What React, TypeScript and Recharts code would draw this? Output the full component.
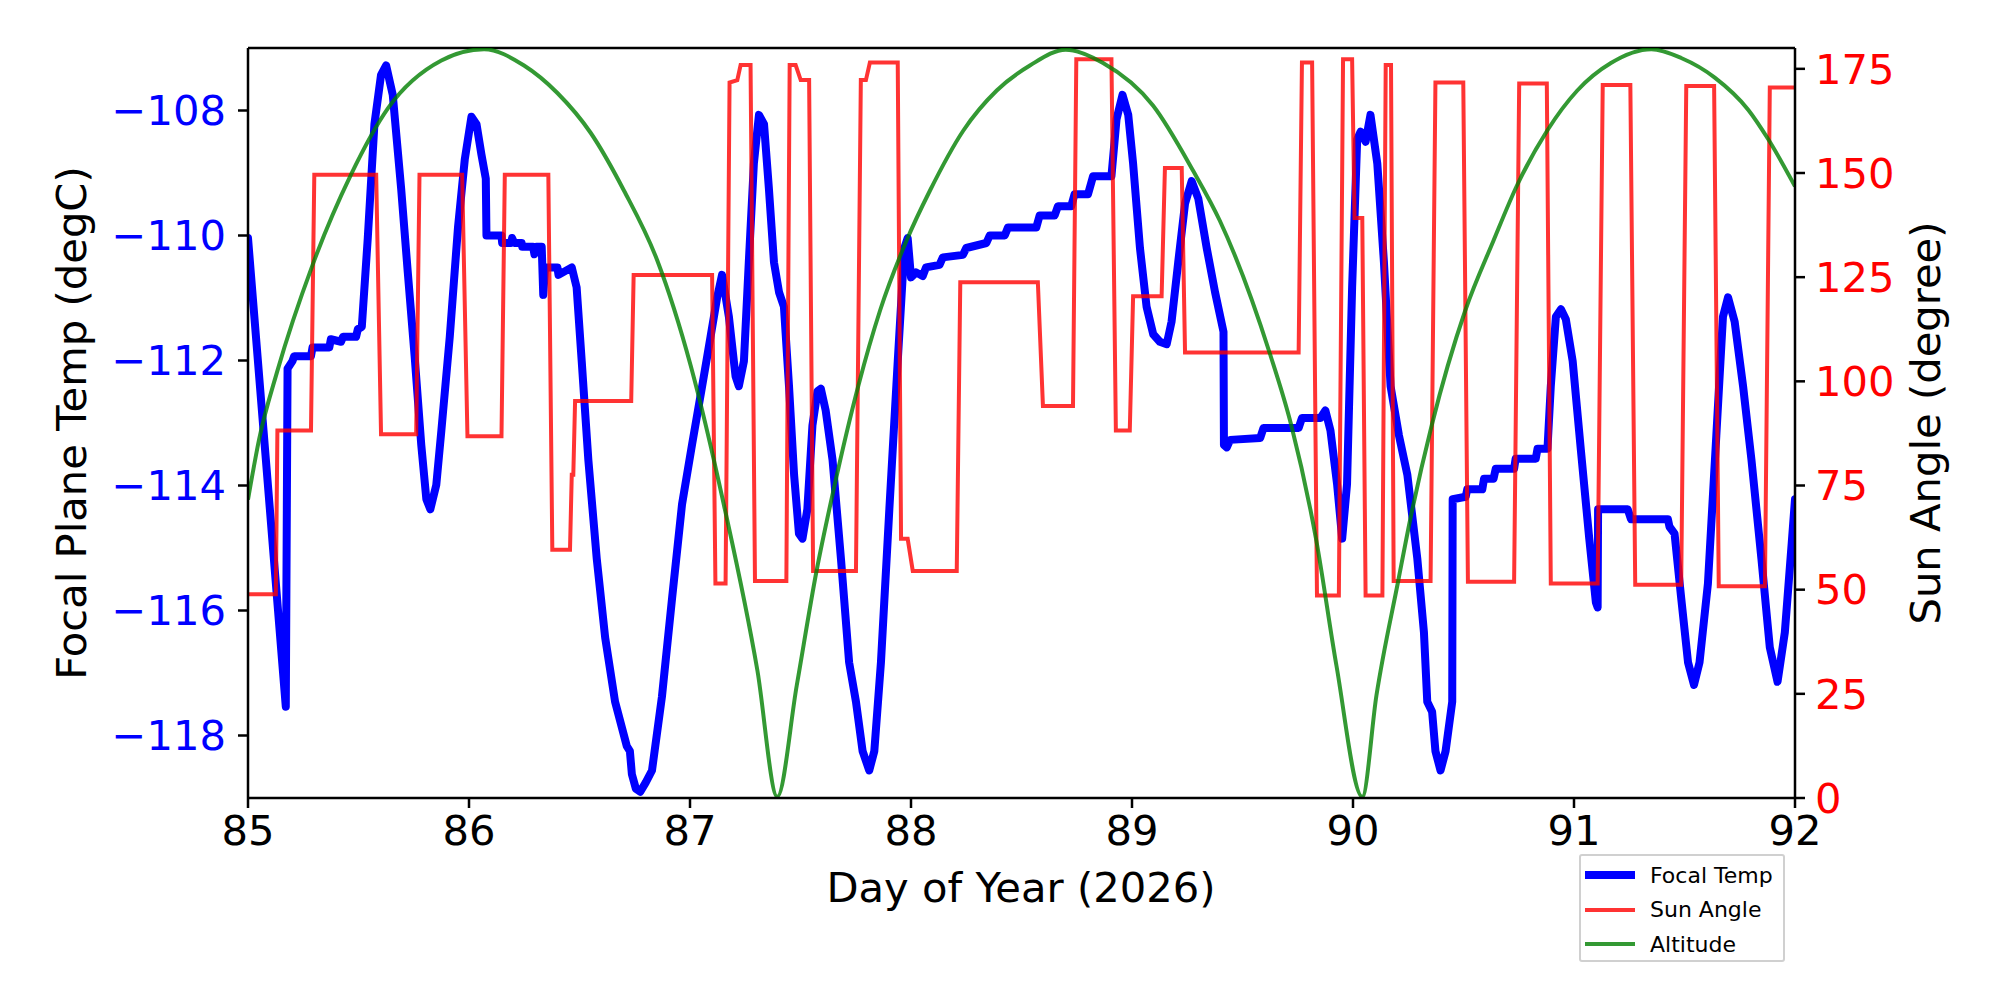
import { LineChart, Line, XAxis, YAxis, ReferenceLine } from "recharts";

// Focal plane temperature (degC)
const focalDays = [
  85.0, 85.171, 85.179, 85.201, 85.209, 85.285, 85.292, 85.368, 85.375, 85.421, 85.43, 85.489,
  85.497, 85.515, 85.542, 85.572, 85.602, 85.625, 85.655, 85.693, 85.723, 85.754, 85.784, 85.807,
  85.825, 85.852, 85.875, 85.913, 85.95, 85.981, 86.011, 86.034, 86.056, 86.076, 86.079, 86.147,
  86.15, 86.19, 86.195, 86.205, 86.238, 86.241, 86.29, 86.296, 86.305, 86.329, 86.336, 86.344,
  86.4, 86.405, 86.465, 86.487, 86.51, 86.54, 86.578, 86.616, 86.661, 86.714, 86.728, 86.737,
  86.755, 86.775, 86.8, 86.828, 86.873, 86.919, 86.964, 87.009, 87.055, 87.093, 87.123, 87.145,
  87.176, 87.206, 87.221, 87.244, 87.266, 87.289, 87.312, 87.335, 87.357, 87.38, 87.403, 87.425,
  87.448, 87.471, 87.493, 87.509, 87.531, 87.554, 87.577, 87.592, 87.614, 87.645, 87.683, 87.72,
  87.751, 87.781, 87.811, 87.834, 87.864, 87.902, 87.94, 87.97, 87.985, 88.0, 88.023, 88.053,
  88.068, 88.129, 88.144, 88.235, 88.25, 88.341, 88.356, 88.424, 88.439, 88.567, 88.582, 88.65,
  88.665, 88.725, 88.74, 88.801, 88.824, 88.907, 88.93, 88.957, 88.983, 89.005, 89.036, 89.066,
  89.096, 89.126, 89.157, 89.179, 89.209, 89.24, 89.27, 89.3, 89.338, 89.376, 89.414, 89.416,
  89.429, 89.444, 89.58, 89.595, 89.754, 89.769, 89.853, 89.875, 89.898, 89.928, 89.951, 89.973,
  89.996, 90.019, 90.034, 90.057, 90.079, 90.11, 90.14, 90.17, 90.208, 90.246, 90.291, 90.321,
  90.336, 90.358, 90.373, 90.396, 90.419, 90.449, 90.451, 90.51, 90.517, 90.585, 90.593, 90.636,
  90.646, 90.729, 90.736, 90.827, 90.835, 90.88, 90.895, 90.918, 90.941, 90.963, 90.994, 91.031,
  91.069, 91.099, 91.107, 91.109, 91.243, 91.258, 91.425, 91.432, 91.455, 91.485, 91.516, 91.543,
  91.568, 91.606, 91.644, 91.674, 91.697, 91.727, 91.765, 91.803, 91.848, 91.886, 91.921, 91.954,
  91.985, 92.0,
];
const focalTemps = [
  -110.04, -117.54, -112.13, -112.01, -111.93, -111.93, -111.79, -111.79, -111.66, -111.7, -111.62, -111.62,
  -111.5, -111.46, -110.04, -108.22, -107.43, -107.28, -107.75, -109.25, -110.59, -111.93, -113.35, -114.22,
  -114.38, -113.99, -113.12, -111.62, -109.88, -108.78, -108.1, -108.22, -108.7, -109.09, -110.0, -110.0,
  -110.12, -110.12, -110.04, -110.12, -110.12, -110.18, -110.18, -110.3, -110.18, -110.18, -110.95, -110.51,
  -110.51, -110.63, -110.51, -110.83, -112.01, -113.59, -115.17, -116.43, -117.46, -118.17, -118.25, -118.62,
  -118.85, -118.9, -118.75, -118.56, -117.38, -115.8, -114.3, -113.35, -112.41, -111.62, -110.99, -110.63,
  -111.3, -112.25, -112.41, -112.01, -110.43, -108.85, -108.07, -108.22, -109.25, -110.43, -110.91, -111.14,
  -112.41, -113.83, -114.77, -114.85, -114.38, -113.04, -112.49, -112.45, -112.8, -113.59, -115.17, -116.83,
  -117.46, -118.25, -118.56, -118.25, -116.83, -114.38, -112.01, -110.2, -110.04, -110.67, -110.59, -110.65,
  -110.51, -110.47, -110.35, -110.31, -110.2, -110.12, -110.0, -110.0, -109.87, -109.87, -109.68, -109.68,
  -109.53, -109.53, -109.34, -109.34, -109.05, -109.05, -108.14, -107.75, -108.07, -108.85, -110.2, -111.14,
  -111.58, -111.7, -111.74, -111.38, -110.43, -109.49, -109.13, -109.41, -110.2, -110.91, -111.54, -113.35,
  -113.39, -113.27, -113.24, -113.08, -113.08, -112.92, -112.92, -112.8, -113.12, -113.98, -114.85, -113.98,
  -110.83, -108.46, -108.34, -108.5, -108.07, -108.85, -110.43, -112.41, -113.2, -113.83, -115.17, -116.35,
  -117.46, -117.62, -118.25, -118.56, -118.25, -117.46, -114.22, -114.18, -114.06, -114.06, -113.89, -113.89,
  -113.73, -113.73, -113.57, -113.57, -113.41, -113.41, -112.41, -111.3, -111.18, -111.34, -112.01, -113.43,
  -114.85, -115.87, -115.95, -114.38, -114.38, -114.54, -114.54, -114.66, -114.77, -115.8, -116.83, -117.19,
  -116.83, -115.57, -113.2, -111.3, -110.99, -111.38, -112.41, -113.59, -115.17, -116.59, -117.14, -116.35,
  -114.93, -114.22,
];

// Sun angle (degree)
const sunDays = [
  85.0, 85.126, 85.133, 85.285, 85.3, 85.58, 85.602, 85.761, 85.776, 85.969, 85.993, 86.147,
  86.162, 86.359, 86.377, 86.457, 86.465, 86.472, 86.48, 86.734, 86.745, 87.1, 87.115, 87.161,
  87.179, 87.214, 87.229, 87.274, 87.294, 87.436, 87.451, 87.478, 87.501, 87.539, 87.557, 87.751,
  87.773, 87.796, 87.814, 87.94, 87.955, 87.985, 88.008, 88.207, 88.223, 88.574, 88.597, 88.733,
  88.748, 88.907, 88.927, 88.99, 89.005, 89.134, 89.149, 89.225, 89.24, 89.754, 89.769, 89.815,
  89.837, 89.936, 89.955, 89.996, 90.007, 90.042, 90.057, 90.133, 90.148, 90.172, 90.184, 90.351,
  90.373, 90.499, 90.52, 90.729, 90.752, 90.877, 90.895, 91.107, 91.13, 91.255, 91.277, 91.485,
  91.508, 91.634, 91.655, 91.864, 91.886, 92.0,
];
const sunAngles = [
  48.9, 48.9, 88.2, 88.2, 149.6, 149.6, 87.3, 87.3, 149.6, 149.6, 86.8, 86.8,
  149.6, 149.6, 59.6, 59.6, 77.6, 77.6, 95.3, 95.3, 125.5, 125.5, 51.5, 51.5,
  171.7, 172.3, 175.9, 175.9, 52.1, 52.1, 175.9, 175.9, 172.3, 172.3, 54.5, 54.5,
  172.3, 172.3, 176.5, 176.5, 62.2, 62.2, 54.5, 54.5, 123.8, 123.8, 94.1, 94.1,
  177.3, 177.3, 88.2, 88.2, 120.4, 120.4, 151.2, 151.2, 106.9, 106.9, 176.5, 176.5,
  48.6, 48.6, 177.3, 177.3, 139.2, 139.2, 48.6, 48.6, 175.9, 175.9, 52.1, 52.1,
  171.7, 171.7, 51.9, 51.9, 171.5, 171.5, 51.5, 51.5, 171.1, 171.1, 51.2, 51.2,
  170.9, 170.9, 50.8, 50.8, 170.5, 170.5,
];

// Altitude, drawn on the sun angle scale
const altDays = [
  85.0, 85.05, 85.133, 85.292, 85.466, 85.633, 85.875, 86.068, 86.249, 86.4, 86.551, 86.701,
  86.852, 87.003, 87.154, 87.305, 87.395, 87.483, 87.573, 87.649, 87.762, 87.86, 87.98, 88.086,
  88.237, 88.388, 88.538, 88.7, 88.869, 89.095, 89.276, 89.397, 89.623, 89.721, 89.834, 89.925,
  90.042, 90.106, 90.205, 90.258, 90.356, 90.508, 90.636, 90.742, 90.879, 91.015, 91.167, 91.35,
  91.485, 91.637, 91.788, 91.879, 92.0,
];
const altValues = [
  71.6, 86.0, 102.5, 127.9, 149.6, 165.5, 177.0, 179.7, 175.8, 169.2, 159.6, 145.8,
  129.0, 103.8, 70.2, 30.6, 0.3, 27.0, 54.6, 73.8, 99.0, 117.0, 133.8, 145.8,
  160.2, 169.8, 175.8, 179.6, 176.4, 166.2, 150.6, 138.6, 106.8, 89.4, 61.8, 31.8,
  0.3, 24.6, 52.2, 66.6, 89.4, 117.0, 133.8, 147.0, 160.2, 169.8, 176.4, 179.7,
  177.6, 172.9, 165.2, 158.1, 146.8,
];

const dayTicks = [85, 86, 87, 88, 89, 90, 91, 92];
const tempTicks = [-118, -116, -114, -112, -110, -108];
const angleTicks = [0, 25, 50, 75, 100, 125, 150, 175];

const zip = (xs: number[], ys: number[]) => xs.map((d, i) => ({ d, v: ys[i] }));
const focalData = zip(focalDays, focalTemps);
const sunData = zip(sunDays, sunAngles);
const altData = zip(altDays, altValues);

const FONT = "'DejaVu Sans', sans-serif";
const minus = (v: number) => (v < 0 ? "\u2212" + Math.abs(v) : String(v));

const legendItems = [
  { label: "Focal Temp", color: "#0000ff", width: 8, opacity: 1 },
  { label: "Sun Angle", color: "#ff0000", width: 4, opacity: 0.8 },
  { label: "Altitude", color: "#008000", width: 4, opacity: 0.8 },
];

export default function App() {
  return (
    <div style={{ position: "absolute", left: 0, top: 0, width: 2000, height: 1000, background: "#fff", fontFamily: FONT }}>
      <LineChart width={2000} height={1000} margin={{ top: 48, right: 105, bottom: 102, left: 148 }}>
        <XAxis
          dataKey="d" type="number" domain={[85, 92]} ticks={dayTicks} allowDataOverflow
          height={100} tickSize={10} tickMargin={7}
          tick={{ fill: "#000", fontSize: 41.7, fontFamily: FONT }}
          axisLine={{ stroke: "#000", strokeWidth: 2.5 }} tickLine={{ stroke: "#000", strokeWidth: 2.5 }}
        />
        <YAxis
          yAxisId="temp" orientation="left" type="number" domain={[-119, -107]} ticks={tempTicks} allowDataOverflow
          width={100} tickSize={10} tickMargin={12} tickFormatter={minus}
          tick={{ fill: "#0000ff", fontSize: 41.7, fontFamily: FONT }}
          axisLine={{ stroke: "#000", strokeWidth: 2.5 }} tickLine={{ stroke: "#000", strokeWidth: 2.5 }}
        />
        <YAxis
          yAxisId="sun" orientation="right" type="number" domain={[0, 180]} ticks={angleTicks} allowDataOverflow
          width={100} tickSize={10} tickMargin={10}
          tick={{ fill: "#ff0000", fontSize: 41.7, fontFamily: FONT }}
          axisLine={{ stroke: "#000", strokeWidth: 2.5 }} tickLine={{ stroke: "#000", strokeWidth: 2.5 }}
        />
        <ReferenceLine yAxisId="temp" y={-107} stroke="#000" strokeWidth={2.5} />
        <Line data={focalData} dataKey="v" yAxisId="temp" type="linear" stroke="#0000ff" strokeWidth={8}
          strokeLinejoin="round" strokeLinecap="round" dot={false} isAnimationActive={false} />
        <Line data={sunData} dataKey="v" yAxisId="sun" type="linear" stroke="#ff0000" strokeOpacity={0.8} strokeWidth={4}
          dot={false} isAnimationActive={false} />
        <Line data={altData} dataKey="v" yAxisId="sun" type="monotone" stroke="#008000" strokeOpacity={0.8} strokeWidth={4}
          dot={false} isAnimationActive={false} />
      </LineChart>

      {/* axis titles */}
      <div style={{ position: "absolute", left: 1021, top: 888, transform: "translate(-50%, -50%)", fontSize: 41.7, whiteSpace: "nowrap", lineHeight: 1 }}>
        Day of Year (2026)
      </div>
      <div style={{ position: "absolute", left: 72, top: 423, transform: "translate(-50%, -50%) rotate(-90deg)", fontSize: 41.7, whiteSpace: "nowrap", lineHeight: 1 }}>
        Focal Plane Temp (degC)
      </div>
      <div style={{ position: "absolute", left: 1926, top: 423, transform: "translate(-50%, -50%) rotate(-90deg)", fontSize: 41.7, whiteSpace: "nowrap", lineHeight: 1 }}>
        Sun Angle (degree)
      </div>

      {/* legend */}
      <div style={{ position: "absolute", left: 1579, top: 854, width: 206, height: 108, boxSizing: "border-box", border: "2.5px solid #d0d0d0", background: "#fff", borderRadius: 3 }}>
        {legendItems.map((it, i) => (
          <div key={it.label} style={{ position: "absolute", left: 0, top: 5 + i * 34.5, height: 28, display: "flex", alignItems: "center" }}>
            <span style={{ display: "inline-block", marginLeft: 4, width: 50, height: it.width, background: it.color, opacity: it.opacity }} />
            <span style={{ marginLeft: 15, fontSize: 22, color: "#000", whiteSpace: "nowrap" }}>{it.label}</span>
          </div>
        ))}
      </div>
    </div>
  );
}
